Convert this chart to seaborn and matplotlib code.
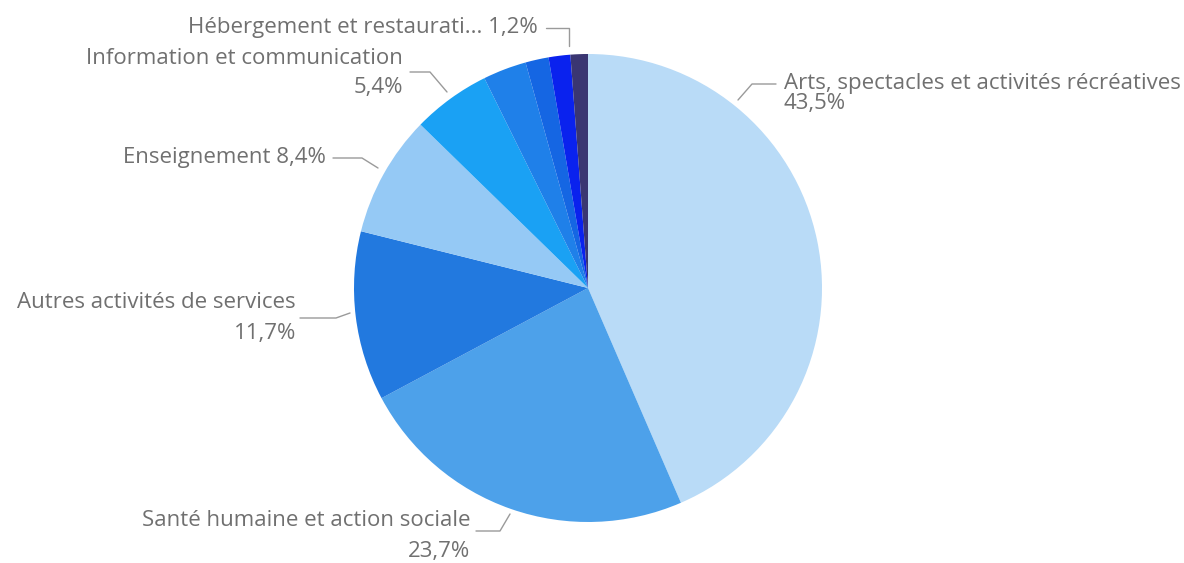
import matplotlib
matplotlib.use("Agg")
import matplotlib.pyplot as plt
import seaborn as sns

sns.set_theme(style="white")
plt.rcParams['font.family'] = ['Open Sans', 'DejaVu Sans']

# slices, clockwise from 12 o'clock
categories = [
    "Arts, spectacles et activités récréatives",
    "Santé humaine et action sociale",
    "Autres activités de services",
    "Enseignement",
    "Information et communication",
    "Activités spécialisées, scientifiques et techniques",
    "Commerce",
    "Activités financières et d'assurance",
    "Hébergement et restauration",
]
shares = [43.5, 23.7, 11.7, 8.4, 5.4, 3.0, 1.6, 1.5, 1.2]
colors = ["#b9dbf7", "#4da1ea", "#2279df", "#95c9f5", "#1aa1f4",
          "#1f80e9", "#1566e3", "#0a22ee", "#3a3672"]

fig = plt.figure(figsize=(11.84, 5.63), dpi=100)
ax = fig.add_axes([0, 0, 1, 1])

cx, cy, r = 588, 288, 234
# y axis is inverted below, so -90 is the top and counterclock reads clockwise
ax.pie(shares, colors=colors, startangle=-90, counterclock=True,
       center=(cx, cy), radius=r, wedgeprops=dict(linewidth=0))
ax.set_xlim(0, 1184)
ax.set_ylim(563, 0)
ax.set_aspect('equal')
ax.axis('off')

def fmt(v):
    return f"{v:.1f}%".replace(".", ",")

txt = dict(color="#707070", fontsize=16)
line = dict(color="#9a9a9a", lw=1)

# Arts
ax.plot([738, 752, 776], [100, 84, 84], **line)
ax.text(784, 84, categories[0], ha="left", va="center", **txt)
ax.text(784, 104, fmt(shares[0]), ha="left", va="center", **txt)
# Santé
ax.plot([476, 500, 510], [531, 531, 514], **line)
ax.text(470, 521, categories[1], ha="right", va="center", **txt)
ax.text(470, 551, fmt(shares[1]), ha="right", va="center", **txt)
# Autres
ax.plot([300, 336, 350], [318, 318, 313], **line)
ax.text(296, 303, categories[2], ha="right", va="center", **txt)
ax.text(296, 334, fmt(shares[2]), ha="right", va="center", **txt)
# Enseignement
ax.plot([333, 362, 378], [158, 158, 168], **line)
ax.text(326, 158, f"{categories[3]} {fmt(shares[3])}", ha="right", va="center", **txt)
# Information
ax.plot([410, 430, 447], [72, 72, 92], **line)
ax.text(403, 58, categories[4], ha="right", va="center", **txt)
ax.text(403, 88, fmt(shares[4]), ha="right", va="center", **txt)
# Hébergement
ax.plot([546, 569, 569], [28, 28, 46], **line)
ax.text(538, 27, f"Hébergement et restaurati... {fmt(shares[8])}", ha="right", va="center", **txt)

fig.savefig("out.png", dpi=100, facecolor="white")
